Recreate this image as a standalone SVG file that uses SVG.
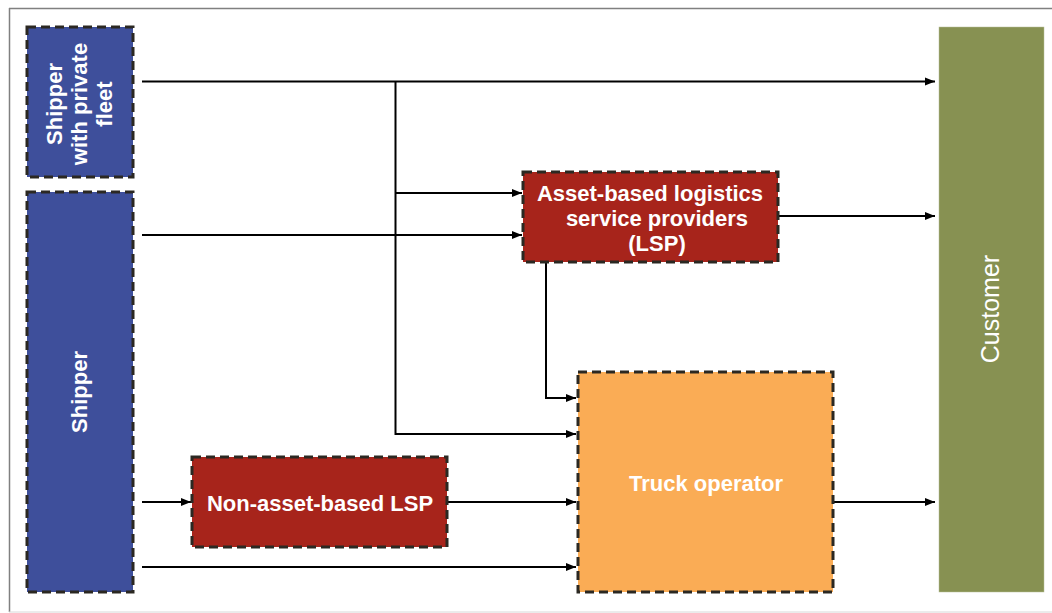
<svg xmlns="http://www.w3.org/2000/svg" width="1052" height="613" viewBox="0 0 1052 613">
<style>
.box{stroke:#2b2822;stroke-width:3;stroke-dasharray:9 5}
.blue{fill:#3E4F9B}
.red{fill:#A7241B}
.orange{fill:#FAAC55}
.green{fill:#879152}
.lbl{font-family:"Liberation Sans",Arial,sans-serif;font-weight:bold;font-size:22px;fill:#ffffff;text-anchor:middle}
.cust{font-family:"Liberation Sans",Arial,sans-serif;font-size:25px;fill:#ffffff;text-anchor:middle}
.conn{fill:none;stroke:#000;stroke-width:2}
</style>
<defs>
<marker id="arr" viewBox="0 0 10 10" refX="10" refY="5" markerWidth="10" markerHeight="10" markerUnits="userSpaceOnUse" orient="auto">
<path d="M0,1 L10,5 L0,9 Z" fill="#000"/>
</marker>
</defs>
<rect width="1052" height="613" fill="#ffffff"/>
<g id="frame">
<line x1="9" y1="8.5" x2="1052" y2="8.5" stroke="#808080" stroke-width="1.5"/>
<line x1="9.5" y1="8" x2="9.5" y2="612" stroke="#808080" stroke-width="1.5"/>
<line x1="9" y1="612" x2="1052" y2="612" stroke="#d8d8d8" stroke-width="1"/>
</g>
<g id="connectors">
<line class="conn" x1="142" y1="81.5" x2="935" y2="81.5" marker-end="url(#arr)"/>
<polyline class="conn" points="395.5,81.5 395.5,434 576,434" marker-end="url(#arr)"/>
<line class="conn" x1="395.5" y1="193" x2="522" y2="193" marker-end="url(#arr)"/>
<line class="conn" x1="142" y1="235" x2="522" y2="235" marker-end="url(#arr)"/>
<line class="conn" x1="778" y1="216" x2="935" y2="216" marker-end="url(#arr)"/>
<polyline class="conn" points="546,262 546,398 576,398" marker-end="url(#arr)"/>
<line class="conn" x1="142" y1="502" x2="191" y2="502" marker-end="url(#arr)"/>
<line class="conn" x1="447" y1="502" x2="576" y2="502" marker-end="url(#arr)"/>
<line class="conn" x1="142" y1="567" x2="576" y2="567" marker-end="url(#arr)"/>
<line class="conn" x1="833" y1="502" x2="935" y2="502" marker-end="url(#arr)"/>
</g>
<g id="shipper-private-fleet">
<rect class="box blue" x="27" y="27" width="106" height="150"/>
<text class="lbl" transform="translate(62,104) rotate(-90)" x="0" y="0">Shipper</text>
<text class="lbl" transform="translate(87,104) rotate(-90)" x="0" y="0">with private</text>
<text class="lbl" transform="translate(112,104) rotate(-90)" x="0" y="0">fleet</text>
</g>
<g id="shipper">
<rect class="box blue" x="27" y="192" width="106" height="400"/>
<text class="lbl" transform="translate(87,392) rotate(-90)" x="0" y="0">Shipper</text>
</g>
<g id="asset-lsp">
<rect class="box red" x="523" y="172" width="255" height="90"/>
<text class="lbl" x="650" y="201">Asset-based logistics</text>
<text class="lbl" x="657" y="226">service providers</text>
<text class="lbl" x="657" y="251">(LSP)</text>
</g>
<g id="non-asset-lsp">
<rect class="box red" x="192" y="457" width="255" height="90"/>
<text class="lbl" x="320" y="511">Non-asset-based LSP</text>
</g>
<g id="truck-operator">
<rect class="box orange" x="578" y="372" width="255" height="220"/>
<text class="lbl" x="706" y="491">Truck operator</text>
</g>
<g id="customer">
<rect class="green" x="939" y="27" width="105" height="565" stroke="#b8c09a" stroke-width="0.5"/>
<text class="cust" transform="translate(999,309) rotate(-90)" x="0" y="0">Customer</text>
</g>
</svg>
